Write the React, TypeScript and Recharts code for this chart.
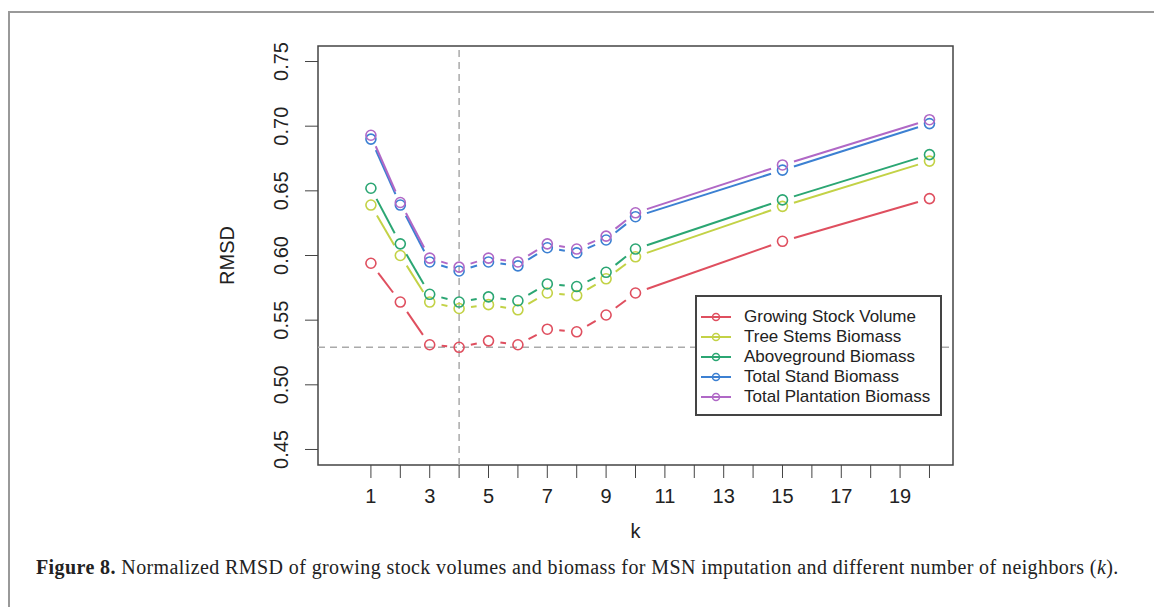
import { LineChart, Line, XAxis, YAxis, ReferenceLine, ReferenceArea, Legend } from 'recharts';

// neighbours k used for the imputation runs
const K_VALUES = [1, 2, 3, 4, 5, 6, 7, 8, 9, 10, 15, 20];

// normalized RMSD per response variable
const GROWING_STOCK = [0.594, 0.564, 0.531, 0.529, 0.534, 0.531, 0.543, 0.541, 0.554, 0.571, 0.611, 0.644];
const TREE_STEMS = [0.639, 0.6, 0.564, 0.559, 0.562, 0.558, 0.571, 0.569, 0.582, 0.599, 0.638, 0.673];
const ABOVEGROUND = [0.652, 0.609, 0.57, 0.564, 0.568, 0.565, 0.578, 0.576, 0.587, 0.605, 0.643, 0.678];
const TOTAL_STAND = [0.69, 0.639, 0.595, 0.588, 0.595, 0.592, 0.606, 0.602, 0.612, 0.63, 0.666, 0.702];
const TOTAL_PLANTATION = [0.693, 0.641, 0.598, 0.591, 0.598, 0.595, 0.609, 0.605, 0.615, 0.633, 0.67, 0.705];

const SERIES_NAMES = [
  'Growing Stock Volume',
  'Tree Stems Biomass',
  'Aboveground Biomass',
  'Total Stand Biomass',
  'Total Plantation Biomass',
];

const X_TICKS = [1, 2, 3, 4, 5, 6, 7, 8, 9, 10, 11, 12, 13, 14, 15, 16, 17, 18, 19, 20];
const Y_TICKS = [0.45, 0.5, 0.55, 0.6, 0.65, 0.7, 0.75];

const BEST_K = 4;

const SERIES = [
  { key: 'gsv', name: SERIES_NAMES[0], color: '#df4f5f', values: GROWING_STOCK },
  { key: 'tsb', name: SERIES_NAMES[1], color: '#c3d246', values: TREE_STEMS },
  { key: 'agb', name: SERIES_NAMES[2], color: '#2ba673', values: ABOVEGROUND },
  { key: 'stand', name: SERIES_NAMES[3], color: '#3c80d2', values: TOTAL_STAND },
  { key: 'plant', name: SERIES_NAMES[4], color: '#b068c6', values: TOTAL_PLANTATION },
];

const data = K_VALUES.map((k, i) => {
  const row: Record<string, number> = { k };
  SERIES.forEach((s) => {
    row[s.key] = s.values[i];
  });
  return row;
});

const minRmsd = Math.min(...GROWING_STOCK);

const AXIS_FONT = '"Liberation Sans", Arial, sans-serif';
const GAP = 12;

// R-style type="b": open circles with the connecting segment cut short around each point
function gappedDot(color: string) {
  const seen: { x: number; y: number }[] = [];
  return (props: any) => {
    const { cx, cy, index, points } = props;
    seen[index] = { x: cx, y: cy };
    let prev: { x: number; y: number } | null = null;
    if (index > 0) {
      prev = points && points[index - 1] ? { x: points[index - 1].x, y: points[index - 1].y } : seen[index - 1];
    }
    let seg = null;
    if (prev) {
      const dx = cx - prev.x;
      const dy = cy - prev.y;
      const len = Math.hypot(dx, dy);
      if (len > 2 * GAP) {
        const ux = dx / len;
        const uy = dy / len;
        seg = (
          <line
            x1={prev.x + ux * GAP}
            y1={prev.y + uy * GAP}
            x2={cx - ux * GAP}
            y2={cy - uy * GAP}
            stroke={color}
            strokeWidth={2}
          />
        );
      }
    }
    return (
      <g key={`dot-${index}`}>
        {seg}
        <circle cx={cx} cy={cy} r={5} fill="none" stroke={color} strokeWidth={1.6} />
      </g>
    );
  };
}

const DOTS = SERIES.map((s) => gappedDot(s.color));

const XTick = ({ x, y, payload }: any) => {
  if (payload.value % 2 !== 1) return <g />;
  return (
    <text x={x} y={y + 23} textAnchor="middle" fontFamily={AXIS_FONT} fontSize={20} fill="#222">
      {payload.value}
    </text>
  );
};

const YTick = ({ x, y, payload }: any) => (
  <text
    transform={`translate(${x - 15},${y}) rotate(-90)`}
    textAnchor="middle"
    fontFamily={AXIS_FONT}
    fontSize={20}
    fill="#222"
  >
    {payload.value.toFixed(2)}
  </text>
);

const renderLegend = () => (
  <div
    style={{
      border: '2px solid #444',
      background: '#fff',
      width: 247,
      height: 121,
      boxSizing: 'border-box',
      padding: '10px 0 0 2px',
      fontFamily: AXIS_FONT,
      fontSize: 17,
      color: '#222',
    }}
  >
    {SERIES.map((s) => (
      <div key={s.key} style={{ display: 'flex', alignItems: 'center', height: 20 }}>
        <svg width={45} height={20} style={{ flex: 'none' }}>
          <line x1={2} x2={32} y1={10} y2={10} stroke={s.color} strokeWidth={2} />
          <circle cx={17} cy={10} r={3.5} fill="none" stroke={s.color} strokeWidth={1.5} />
        </svg>
        <span style={{ whiteSpace: 'nowrap' }}>{s.name}</span>
      </div>
    ))}
  </div>
);

export default function App() {
  return (
    <div style={{ position: 'absolute', left: 0, top: 0, width: 1154, height: 607, background: '#fff' }}>
      <div
        style={{
          position: 'absolute',
          left: 8,
          top: 11,
          right: 0,
          bottom: 0,
          borderTop: '2px solid #999',
          borderLeft: '2px solid #999',
        }}
      />
      <LineChart
        width={1154}
        height={607}
        data={data}
        margin={{ top: 46, right: 201, bottom: 112, left: 258 }}
      >
        <XAxis
          dataKey="k"
          type="number"
          domain={[-0.8, 20.8]}
          ticks={X_TICKS}
          interval={0}
          allowDataOverflow
          height={30}
          axisLine={false}
          tickSize={13}
          tickLine={{ stroke: '#444' }}
          tick={XTick}
          label={{
            content: ({ viewBox }: any) => (
              <text
                x={viewBox.x + viewBox.width / 2}
                y={viewBox.y + 73}
                textAnchor="middle"
                fontFamily={AXIS_FONT}
                fontSize={20}
                fill="#222"
              >
                k
              </text>
            ),
          }}
        />
        <YAxis
          type="number"
          domain={[0.438, 0.762]}
          ticks={Y_TICKS}
          interval={0}
          allowDataOverflow
          width={60}
          axisLine={false}
          tickSize={13}
          tickLine={{ stroke: '#444' }}
          tick={YTick}
          label={{
            content: ({ viewBox }: any) => (
              <text
                transform={`translate(${viewBox.x - 24},${viewBox.y + viewBox.height / 2}) rotate(-90)`}
                textAnchor="middle"
                fontFamily={AXIS_FONT}
                fontSize={20}
                fill="#222"
              >
                RMSD
              </text>
            ),
          }}
        />
        <ReferenceArea
          x1={-0.8}
          x2={20.8}
          y1={0.438}
          y2={0.762}
          fill="none"
          stroke="#444"
          strokeWidth={1.5}
          ifOverflow="visible"
        />
        <ReferenceLine x={BEST_K} stroke="#aaa" strokeWidth={1.5} strokeDasharray="7 5" />
        <ReferenceLine y={minRmsd} stroke="#aaa" strokeWidth={1.5} strokeDasharray="7 5" />
        {SERIES.map((s, i) => (
          <Line
            key={s.key}
            dataKey={s.key}
            name={s.name}
            stroke={s.color}
            strokeOpacity={0}
            dot={DOTS[i]}
            activeDot={false}
            isAnimationActive={false}
          />
        ))}
        <Legend
          layout="vertical"
          align="center"
          verticalAlign="middle"
          content={renderLegend}
          wrapperStyle={{ left: 695, top: 295, width: 247, height: 121 }}
        />
      </LineChart>
      <div
        style={{
          position: 'absolute',
          left: 36,
          top: 557,
          fontFamily: '"Liberation Serif", "Times New Roman", serif',
          fontSize: 20,
          lineHeight: '20px',
          letterSpacing: 0.4,
          color: '#222',
          whiteSpace: 'nowrap',
        }}
      >
        <b>Figure 8.</b> Normalized RMSD of growing stock volumes and biomass for MSN imputation and different number
        of neighbors (<i>k</i>).
      </div>
    </div>
  );
}
